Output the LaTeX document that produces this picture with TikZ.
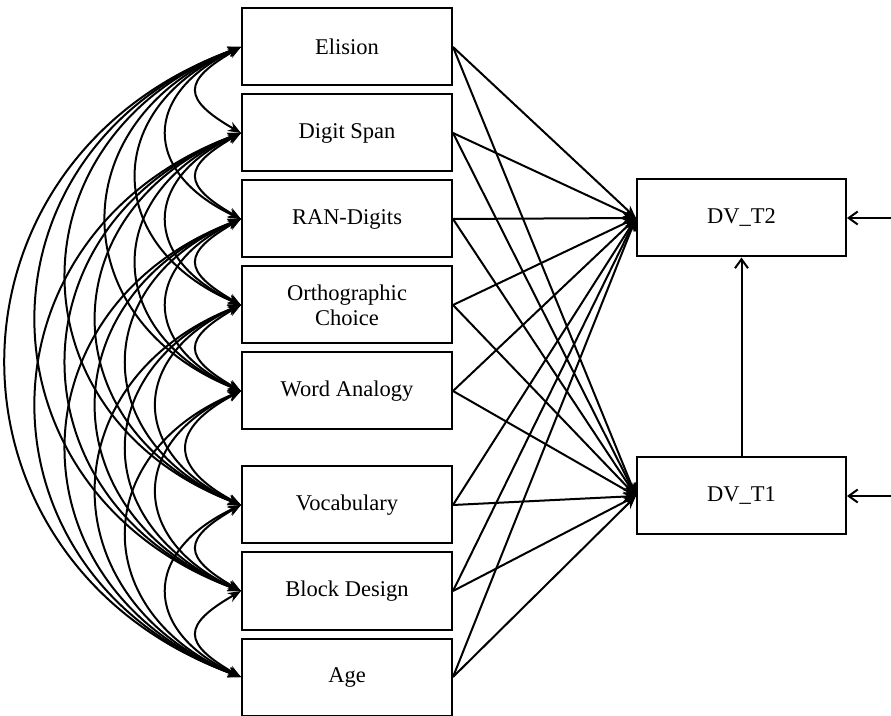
\documentclass[tikz,border=0pt]{standalone}
\usepackage{fontspec}
\setmainfont{Liberation Serif}
\usetikzlibrary{positioning,arrows.meta,calc}

\begin{document}
\begin{tikzpicture}[x=1pt,y=1pt,line width=2pt,
  var/.style={draw,minimum width=210pt,minimum height=77pt,inner sep=0pt,
    align=center,font=\fontsize{22.5}{25}\selectfont},
  path/.style={-{Stealth[length=13pt,width=10pt]}},
  cov/.style={{Stealth[length=13pt,width=10pt]}-{Stealth[length=13pt,width=10pt]}},
  resid/.style={-{Straight Barb[length=9pt,width=13pt]}}]
\useasboundingbox (0,0) rectangle (891,715);
% predictors
\node[var] (v1) at (347,668) {Elision};
\node[var,below=7pt of v1] (v2) {Digit Span};
\node[var,below=7pt of v2] (v3) {RAN-Digits};
\node[var,below=7pt of v3] (v4) {Orthographic\\Choice};
\node[var,below=7pt of v4] (v5) {Word Analogy};
\node[var,below=35pt of v5] (v6) {Vocabulary};
\node[var,below=7pt of v6] (v7) {Block Design};
\node[var,below=7pt of v7] (v8) {Age};
% outcomes
\node[var,minimum width=209pt] (t2) at (741.5,497) {DV\_T2};
\node[var,minimum width=209pt] (t1) at (741.5,219) {DV\_T1};
\coordinate (e2) at (891,497);
\coordinate (e1) at (891,219);
% covariances
\foreach \i in {1,...,7}{
  \pgfmathtruncatemacro\nxt{\i+1}
  \foreach \j in {\nxt,...,8}{
    \draw[cov] let \p1=(v\i.west), \p2=(v\j.west), \n1={\y1-\y2},
      \n2={19pt+0.467*\n1}, \n3={21.5pt+0.1455*\n1} in
      (\p1) .. controls +(-\n2,-\n3) and +(-\n2,\n3) .. (\p2);
  }
}
% paths
\foreach \i in {1,...,8}{
  \draw[path] (v\i.east) -- (t2.west);
  \draw[path] (v\i.east) -- (t1.west);
}
\draw[resid] (t1) -- (t2);
\draw[resid] (e2) -- (t2);
\draw[resid] (e1) -- (t1);
\end{tikzpicture}
\end{document}
